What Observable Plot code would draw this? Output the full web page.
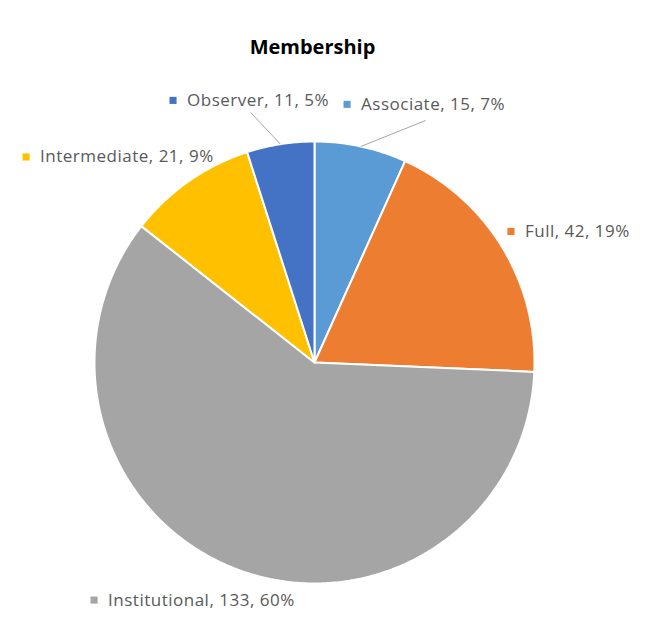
<!DOCTYPE html>
<html>
<head>
<meta charset="utf-8">
<script src="https://cdn.jsdelivr.net/npm/d3@7"></script>
<script src="https://cdn.jsdelivr.net/npm/@observablehq/plot@0.6"></script>
<style>
  html, body { margin: 0; padding: 0; background: #fff; }
  #wrap { position: relative; width: 647px; height: 625px; }
  #topline { position: absolute; left: 10px; top: 12px; width: 637px; height: 1px; background: #d9d9d9; }
  #chart { position: absolute; left: 0; top: 0; }
</style>
</head>
<body>
<div id="wrap"><div id="topline"></div><div id="chart"></div></div>
<script>
// ---- data ----
const title = "Membership";
const categories = ["Associate", "Full", "Institutional", "Intermediate", "Observer"];
const counts = [15, 42, 133, 21, 11];
const colors = ["#5B9BD5", "#ED7D31", "#A5A5A5", "#FFC000", "#4472C4"];

// ---- layout (label anchors in pie-radius units; x right, y up) ----
const labelAnchor = {
  Associate:     [0.148, 1.168],
  Full:          [0.893, 0.593],
  Institutional: [-1.002, -1.075],
  Intermediate:  [-1.311, 0.93],
  Observer:      [-0.643, 1.186]
};
const leaderStart = {
  Associate: [0.505, 1.095],
  Observer:  [-0.291, 1.132]
};

const total = d3.sum(counts);
const rows = categories.map((c, i) => ({
  name: c, value: counts[i], pct: Math.round(100 * counts[i] / total)
}));
const arcs = d3.pie().sort(null).value(d => d.value)(rows);

// polygon points for each slice
const slicePts = [];
for (const a of arcs) {
  const n = Math.max(2, Math.ceil((a.endAngle - a.startAngle) / 0.01));
  slicePts.push({name: a.data.name, px: 0, py: 0});
  for (let k = 0; k <= n; k++) {
    const t = a.startAngle + (a.endAngle - a.startAngle) * k / n;
    slicePts.push({name: a.data.name, px: Math.sin(t), py: Math.cos(t)});
  }
  slicePts.push({name: a.data.name, px: 0, py: 0});
}

const labels = rows.map(r => ({
  name: r.name,
  lx: labelAnchor[r.name][0],
  ly: labelAnchor[r.name][1],
  text: `${r.name}, ${r.value}, ${r.pct}%`
}));

const leaders = arcs.filter(a => leaderStart[a.data.name]).map(a => {
  const m = (a.startAngle + a.endAngle) / 2;
  return {
    x1: leaderStart[a.data.name][0], y1: leaderStart[a.data.name][1],
    x2: Math.sin(m), y2: Math.cos(m)
  };
});

const font = "'Open Sans', 'DejaVu Sans', sans-serif";

const chart = Plot.plot({
  width: 647,
  height: 625,
  margin: 0,
  x: {domain: [-1, 1], range: [94, 534], axis: null},
  y: {domain: [-1, 1], range: [583, 141], axis: null},
  color: {domain: categories, range: colors},
  style: {fontFamily: font, background: "#fff"},
  marks: [
    Plot.line(slicePts, {
      x: "px", y: "py", z: "name",
      fill: "name", stroke: "#fff", strokeWidth: 2, strokeLinejoin: "round"
    }),
    Plot.link(leaders, {
      x1: "x1", y1: "y1", x2: "x2", y2: "y2",
      stroke: "#a6a6a6", strokeWidth: 1
    }),
    Plot.dot(labels, {
      x: "lx", y: "ly", fill: "name", symbol: "square", r: 4, stroke: null
    }),
    Plot.text(labels, {
      x: "lx", y: "ly", text: "text", dx: 14, textAnchor: "start",
      fill: "#595959", fontSize: 17, fontFamily: font
    }),
    Plot.text([title], {
      x: () => 0, y: () => 1.423, text: d => d, dx: -2,
      fontSize: 20, fontWeight: "bold", fill: "#000", fontFamily: font
    })
  ]
});
chart.querySelectorAll('[font-size="17"]').forEach(el => el.setAttribute("letter-spacing", "0.5"));
document.getElementById("chart").appendChild(chart);
</script>
</body>
</html>
